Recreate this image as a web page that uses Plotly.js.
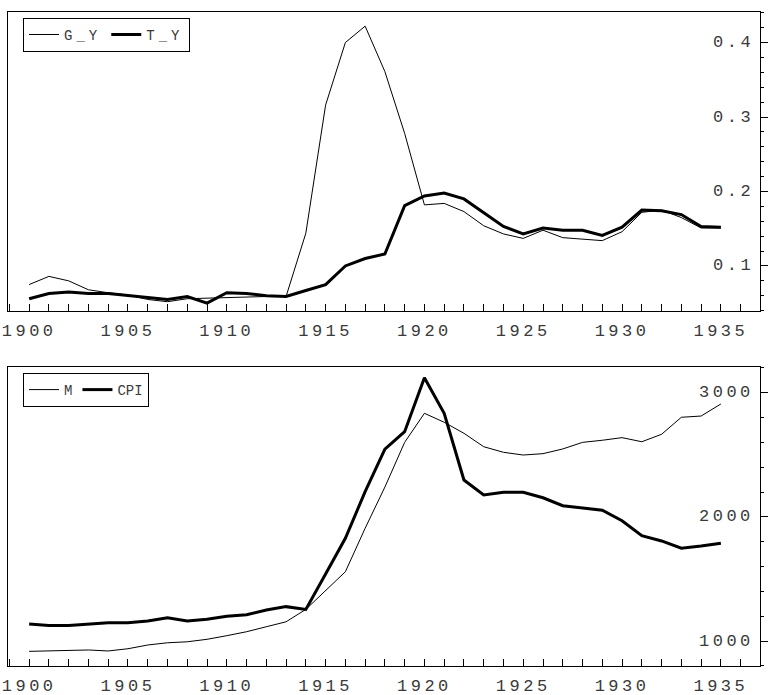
<!DOCTYPE html>
<html>
<head>
<meta charset="utf-8">
<script src="https://cdn.plot.ly/plotly-3.0.1.min.js"></script>
<style>
  html, body { margin: 0; padding: 0; background: #fff; }
  #chart { width: 768px; height: 695px; }
  .xtick text, .x2tick text, .annotation-text { letter-spacing: 3.5px; }
  .legendtext { letter-spacing: 4px; }
</style>
</head>
<body>
<div id="chart"></div>
<script>
const years = [1900,1901,1902,1903,1904,1905,1906,1907,1908,1909,1910,1911,1912,1913,1914,1915,1916,1917,1918,1919,1920,1921,1922,1923,1924,1925,1926,1927,1928,1929,1930,1931,1932,1933,1934,1935];
const xTickVals = [1899,1900,1901,1902,1903,1904,1905,1906,1907,1908,1909,1910,1911,1912,1913,1914,1915,1916,1917,1918,1919,1920,1921,1922,1923,1924,1925,1926,1927,1928,1929,1930,1931,1932,1933,1934,1935,1936];
const xTickText = ['','1900','','','','','1905','','','','','1910','','','','','1915','','','','','1920','','','','','1925','','','','','1930','','','','','1935',''];

const gY = [0.075,0.086,0.080,0.068,0.064,0.061,0.055,0.052,0.056,0.057,0.058,0.058,0.059,0.059,0.144,0.316,0.400,0.422,0.361,0.278,0.182,0.184,0.173,0.154,0.143,0.137,0.148,0.138,0.136,0.134,0.146,0.172,0.175,0.165,0.151,0.151];
const tY = [0.056,0.063,0.065,0.063,0.063,0.060,0.057,0.055,0.059,0.050,0.064,0.063,0.060,0.059,0.067,0.075,0.100,0.110,0.116,0.181,0.194,0.198,0.190,0.171,0.153,0.143,0.151,0.148,0.148,0.141,0.152,0.175,0.174,0.169,0.153,0.152];

const mVals = [917,922,925,928,920,938,968,986,994,1014,1043,1075,1115,1155,1255,1408,1558,1908,2240,2600,2834,2762,2673,2565,2520,2498,2509,2547,2600,2617,2638,2605,2665,2802,2812,2909];
const cpiVals = [1137,1126,1126,1137,1147,1147,1161,1188,1161,1175,1199,1212,1250,1277,1255,1540,1827,2203,2546,2686,3121,2834,2297,2176,2198,2198,2154,2090,2074,2053,1969,1848,1806,1747,1765,1787];

const topYTicks = [0.1, 0.2, 0.3, 0.4];
const topYText = ['0.1', '0.2', '0.3', '0.4'];
const botYTicks = [1000, 2000, 3000];
const botYText = ['1000', '2000', '3000'];

const topNames = ['G_Y', 'T_Y'];
const botNames = ['M', 'CPI'];

const fontFam = '"Liberation Mono", "Courier New", monospace';
const txtCol = '#3a3a3a';

const traces = [
  {x: years, y: gY, name: topNames[0], type: 'scatter', mode: 'lines', line: {color: '#000', width: 1}, xaxis: 'x', yaxis: 'y', legend: 'legend'},
  {x: years, y: tY, name: topNames[1], type: 'scatter', mode: 'lines', line: {color: '#000', width: 3}, xaxis: 'x', yaxis: 'y', legend: 'legend'},
  {x: years, y: mVals, name: botNames[0], type: 'scatter', mode: 'lines', line: {color: '#000', width: 1}, xaxis: 'x2', yaxis: 'y2', legend: 'legend2'},
  {x: years, y: cpiVals, name: botNames[1], type: 'scatter', mode: 'lines', line: {color: '#000', width: 3}, xaxis: 'x2', yaxis: 'y2', legend: 'legend2'}
];

function xAxis(anchor) {
  return {
    anchor: anchor,
    range: [1898.93, 1936.98],
    tickmode: 'array', tickvals: xTickVals, ticktext: xTickText,
    ticks: 'inside', ticklen: 7, tickwidth: 1, tickcolor: '#000',
    showline: true, linecolor: '#000', linewidth: 1, mirror: true,
    showgrid: false, zeroline: false,
    ticklabelstandoff: 4,
    tickfont: {family: fontFam, size: 17, color: txtCol}
  };
}
function yAxis(anchor, domain, range, dtick, minorDtick) {
  return {
    anchor: anchor, domain: domain, range: range, side: 'right',
    dtick: dtick,
    ticks: 'outside', ticklen: 7, tickwidth: 1, tickcolor: '#000',
    minor: {dtick: minorDtick, ticks: 'outside', ticklen: 3, tickwidth: 1, tickcolor: '#000', showgrid: false},
    showticklabels: false,
    showline: true, linecolor: '#000', linewidth: 1, mirror: true,
    showgrid: false, zeroline: false
  };
}

const legendBase = {
  orientation: 'h', xanchor: 'left', yanchor: 'top',
  bordercolor: '#000', borderwidth: 1, bgcolor: '#fff',
  font: {family: fontFam, size: 14, color: txtCol},
  itemwidth: 30
};

function yLabels(vals, texts, xref, yref) {
  return vals.map((v, i) => ({
    xref: xref, yref: yref, x: 1, y: v, text: texts[i],
    xanchor: 'right', yanchor: 'middle', xshift: -4, showarrow: false,
    font: {family: fontFam, size: 17, color: txtCol}
  }));
}

const layout = {
  width: 768, height: 695,
  margin: {l: 8, r: 8, t: 12, b: 29},
  paper_bgcolor: '#fff', plot_bgcolor: '#fff',
  showlegend: true,
  xaxis: xAxis('y'),
  yaxis: yAxis('x', [0.5428, 1], [0.0395, 0.441], 0.1, 0.02),
  xaxis2: xAxis('y2'),
  yaxis2: yAxis('x2', [0, 0.4572], [799, 3207], 1000, 200),
  legend: Object.assign({}, legendBase, {x: 0.02, y: 0.991}),
  legend2: Object.assign({}, legendBase, {x: 0.02, y: 0.448}),
  annotations: yLabels(topYTicks, topYText, 'x domain', 'y').concat(yLabels(botYTicks, botYText, 'x2 domain', 'y2'))
};

Plotly.newPlot('chart', traces, layout, {staticPlot: true, displayModeBar: false});
</script>
</body>
</html>
